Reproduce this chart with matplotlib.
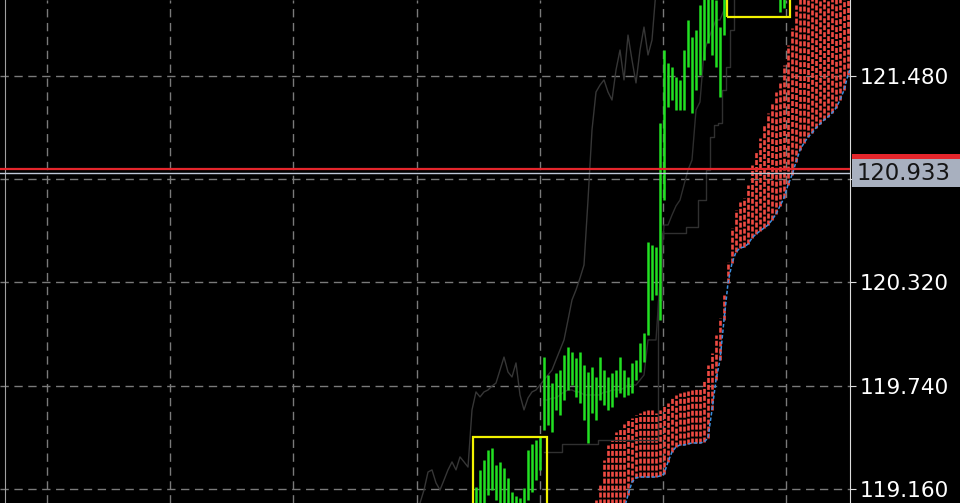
import numpy as np
import matplotlib
matplotlib.use('Agg')
import matplotlib.pyplot as plt
from matplotlib.patches import Rectangle

plt.rcParams['lines.scale_dashes'] = False
plt.rcParams['font.family'] = ['DejaVu Sans']

# ---------------- data ----------------
bar_start = 0
highs = [119.171, 119.267, 119.323, 119.379, 119.390, 119.295, 119.312, 119.278, 119.222, 119.143,
         119.120, 119.109, 119.165, 119.379, 119.413, 119.435, 119.458, 119.901, 119.800, 119.755,
         119.811, 119.828, 119.913, 119.958, 119.930, 119.896, 119.930, 119.856, 119.817, 119.845,
         119.789, 119.901, 119.828, 119.789, 119.811, 119.828, 119.901, 119.828, 119.789, 119.868,
         119.885, 119.980, 120.036, 120.547, 120.531, 120.519, 121.216, 121.626, 121.553, 121.531,
         121.474, 121.458, 121.626, 121.795, 121.699, 121.738, 121.879, 121.935, 121.963, 121.935,
         121.907, 121.755, 122.019, 122.20, 122.18, 122.15, 122.17, 122.22, 122.25, 122.27,
         122.24, 122.20, 122.16, 122.12, 122.10, 122.08, 122.076, 122.019]
lows = [118.986, 119.014, 119.070, 119.126, 119.154, 119.098, 119.070, 119.053, 119.014, 118.986,
        118.974, 118.958, 119.014, 119.098, 119.143, 119.210, 119.267, 119.491, 119.519, 119.480,
        119.604, 119.576, 119.660, 119.716, 119.744, 119.677, 119.643, 119.547, 119.418, 119.587,
        119.547, 119.660, 119.632, 119.604, 119.621, 119.677, 119.699, 119.677, 119.688, 119.699,
        119.772, 119.817, 119.873, 120.025, 120.222, 120.250, 120.109, 120.783, 121.306, 121.345,
        121.289, 121.289, 121.289, 121.531, 121.272, 121.401, 121.486, 121.570, 121.665, 121.598,
        121.531, 121.362, 121.710, 121.963, 122.019, 122.104, 122.047, 121.991, 122.132, 122.188,
        122.160, 122.076, 122.019, 121.974, 121.952, 121.935, 121.840, 121.862]

cloud_start = 30
cloud_upper = [119.098, 119.182, 119.323, 119.407, 119.435, 119.480, 119.502, 119.525, 119.547, 119.559,
               119.576, 119.587, 119.598, 119.604, 119.604, 119.587, 119.604, 119.626, 119.643, 119.671,
               119.688, 119.699, 119.705, 119.710, 119.716, 119.722, 119.727, 119.772, 119.856, 119.924,
               120.025, 120.120, 120.250, 120.435, 120.626, 120.727, 120.772, 120.795, 120.868, 120.980,
               121.053, 121.132, 121.205, 121.272, 121.334, 121.390, 121.441, 121.542, 121.654, 121.750,
               121.879, 121.991, 122.076, 122.160, 122.216, 122.272, 122.328, 122.385, 122.413, 122.441,
               122.469, 122.497, 122.525, 122.553, 122.581]
cloud_lower = [118.761, 118.789, 118.817, 118.845, 118.873, 118.929, 118.986, 119.042, 119.126, 119.199,
               119.222, 119.227, 119.227, 119.227, 119.227, 119.227, 119.233, 119.244, 119.312, 119.368,
               119.396, 119.407, 119.407, 119.413, 119.418, 119.418, 119.418, 119.424, 119.446, 119.604,
               119.772, 119.885, 120.109, 120.317, 120.429, 120.491, 120.514, 120.519, 120.536, 120.570,
               120.592, 120.609, 120.626, 120.643, 120.671, 120.705, 120.750, 120.795, 120.868, 120.924,
               120.997, 121.064, 121.104, 121.137, 121.160, 121.188, 121.210, 121.233, 121.250, 121.272,
               121.300, 121.345, 121.401, 121.486, 121.542]

chikou_start = -14
chikou = [119.081, 119.154, 119.255, 119.267, 119.194, 119.154, 119.210, 119.267, 119.312, 119.267,
          119.340, 119.312, 119.283, 119.604,
          119.705, 119.677, 119.705, 119.716, 119.738, 119.755, 119.828, 119.901, 119.817, 119.789,
          119.868, 119.688, 119.604, 119.671, 119.705, 119.716, 119.744,
          119.772, 119.800, 119.828, 119.885, 119.941, 119.997, 120.109, 120.222, 120.278, 120.345,
          120.418, 120.783, 121.177, 121.390, 121.429, 121.458, 121.390, 121.345, 121.514, 121.626,
          121.458, 121.710, 121.570, 121.441, 121.626, 121.755, 121.598, 121.682, 121.963, 122.076]

tenkan_start = 17
tenkan = [119.660, 119.660, 119.671, 119.671, 119.688, 119.705, 119.716, 119.716, 119.705, 119.705,
          119.688, 119.688, 119.688, 119.688, 119.688, 119.705, 119.705, 119.716, 119.716, 119.716,
          119.727, 119.744, 119.744, 119.744, 119.772, 119.800, 119.997, 119.997, 119.997, 120.334,
          120.643, 120.643, 120.699, 120.750, 120.783, 120.868, 120.952, 121.008, 121.289, 121.334,
          121.615, 121.682, 121.738, 121.795, 121.795, 121.851, 121.963]

kijun_start = 17
kijun = [119.368] * 5 + [119.413] * 9 + [119.435] * 15 + [120.222] + [120.598] * 6 + [120.632] * 3 + \
        [120.783] * 2 + [120.952, 121.137, 121.205, 121.216, 121.401, 121.531, 121.738, 121.963]

ask_price = 120.955
bid_price = 120.933
bid_label = "120.933"

price_ticks = [119.160, 119.740, 120.320, 120.900, 121.480]
price_labels = ["119.160", "119.740", "120.320", "", "121.480"]
time_grid = [-107.25, -76.5, -45.75, -14.75, 16.0, 46.75, 77.5]

box_low = (-0.75, 118.95, 18.5, 0.502)      # x, y, width, height
box_high = (62.75, 121.812, 15.75, 0.40)

# ---------------- figure ----------------
W, H = 960, 503
fig = plt.figure(figsize=(W / 100, H / 100), dpi=100, facecolor='black')
plot_w = 850
ax = fig.add_axes([0, 0, plot_w / W, 1])
ax.set_facecolor('black')
ax.set_xlim(-119, 93.5)
ax.set_ylim(119.081, 121.907)

# grid
for t in price_ticks:
    ax.axhline(t, color='#7a7a7a', lw=1.0, ls=(0, (6, 4)), zorder=1)
for t in time_grid:
    ax.axvline(t, color='#7a7a7a', lw=1.0, ls=(0, (6, 4)), zorder=1)

# thin left border line
ax.axvline(-117.75, color='#a0a0a0', lw=0.8, zorder=1)

# cloud hatch
ci = np.arange(cloud_start, cloud_start + len(cloud_upper))
ax.vlines(ci, cloud_lower, cloud_upper, colors='#ee4a42', lw=1.9,
          linestyles=[(0, (3.6, 1.4))], zorder=2)
ax.plot(ci, cloud_lower, color='#3b8fe0', lw=1.1, ls=(0, (2.5, 1.5)), zorder=3)

# indicator lines
ki = np.arange(kijun_start, kijun_start + len(kijun))
ax.plot(ki, kijun, color='#303030', lw=1.0, drawstyle='steps-mid', zorder=2)
ti = np.arange(tenkan_start, tenkan_start + len(tenkan))
ax.plot(ti, tenkan, color='#2e2e2e', lw=1.0, zorder=2)
chi = np.arange(chikou_start, chikou_start + len(chikou))
ax.plot(chi, chikou, color='#363636', lw=1.0, zorder=2)

# bars
bi = np.arange(bar_start, bar_start + len(highs))
ax.vlines(bi, lows, highs, colors='#22e022', lw=1.8, zorder=4)

# bid / ask lines
ax.axhline(ask_price, color='#e5262c', lw=1.6, zorder=5)
ax.axhline(bid_price, color='#c0c8d8', lw=1.0, zorder=5)

# yellow boxes
for b in (box_low, box_high):
    ax.add_patch(Rectangle((b[0], b[1]), b[2], b[3], fill=False,
                           edgecolor='#f2f200', lw=1.6, zorder=6))

# axis styling
ax.set_xticks([])
ax.set_yticks(price_ticks)
ax.set_yticklabels(price_labels)
ax.yaxis.tick_right()
ax.tick_params(axis='y', colors='#dcdcdc', labelcolor='white', length=4,
               width=0.8, pad=3, labelsize=15.6)
for s in ['left', 'top', 'bottom']:
    ax.spines[s].set_visible(False)
ax.spines['right'].set_color('#dcdcdc')
ax.spines['right'].set_linewidth(0.8)

# bid label box
yb = (bid_price - 119.081) / (121.907 - 119.081)
x0 = 852 / W
fig.patches.append(Rectangle((x0, yb - 14 / H), 1 - x0, 33 / H, transform=fig.transFigure,
                             facecolor='#e5262c', edgecolor='none', zorder=10))
fig.patches.append(Rectangle((x0, yb - 14 / H), 1 - x0, 28 / H, transform=fig.transFigure,
                             facecolor='#a8b0bf', edgecolor='none', zorder=11))
fig.text(857 / W, yb, bid_label, color='#151515', fontsize=16.4, va='center', ha='left', zorder=12)

fig.savefig('out.png', dpi=100, facecolor='black')
